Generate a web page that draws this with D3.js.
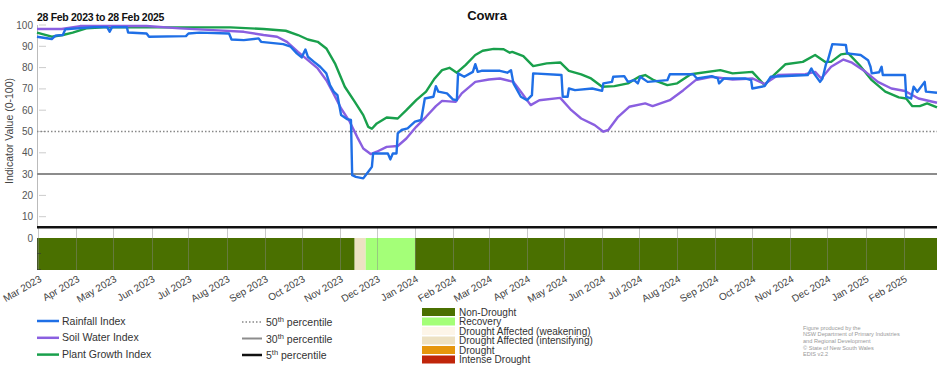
<!DOCTYPE html>
<html>
<head>
<meta charset="utf-8">
<script src="https://cdn.jsdelivr.net/npm/d3@7/dist/d3.min.js"></script>
<style>
  body { margin: 0; background: #fff; }
  text { font-family: "Liberation Sans", Arial, sans-serif; }
</style>
</head>
<body>
<svg id="chart" width="952" height="370"></svg>
<script>
// index values, [date, value]
const rainfall = [
  ["2023-02-28",94.5],["2023-03-12",93.4],["2023-03-15",95],["2023-03-21",95.3],["2023-03-23",98],
  ["2023-04-15",99],["2023-04-26",99],["2023-04-28",96.8],["2023-04-30",99],["2023-05-12",99],
  ["2023-05-13",96.5],["2023-05-28",96],["2023-05-30",94.5],["2023-06-29",94.8],["2023-07-01",96],
  ["2023-07-10",96.4],["2023-08-03",96],["2023-08-05",93.2],["2023-08-15",92.9],["2023-08-27",93.7],
  ["2023-08-29",92.1],["2023-09-16",91],["2023-09-22",89.8],["2023-09-27",86.7],["2023-10-01",84.8],
  ["2023-10-04",88.5],["2023-10-06",85.1],["2023-10-11",82.7],["2023-10-16",80.4],["2023-10-21",77.3],
  ["2023-10-24",71.8],["2023-10-27",68.7],["2023-10-30",67.1],["2023-11-02",57.7],["2023-11-07",55.8],
  ["2023-11-10",55.4],["2023-11-11",29.5],["2023-11-14",28.7],["2023-11-20",28],["2023-11-23",30.3],
  ["2023-11-27",33.4],["2023-11-28",39.7],["2023-12-10",39.7],["2023-12-12",36.9],["2023-12-14",39.7],
  ["2023-12-17",39.7],["2023-12-18",49.1],["2023-12-21",50.7],["2023-12-26",51.5],["2024-01-01",54.6],
  ["2024-01-06",55.4],["2024-01-09",65.5],["2024-01-16",66.3],["2024-01-18",71.3],["2024-01-20",68.7],
  ["2024-01-27",67.9],["2024-02-01",65],["2024-02-04",64.7],["2024-02-05",77.3],["2024-02-10",75.7],
  ["2024-02-17",78],["2024-02-19",81.6],["2024-02-21",78],["2024-02-24",78.5],["2024-03-10",78.5],
  ["2024-03-16",77.6],["2024-03-19",78.8],["2024-03-21",72.6],["2024-03-27",66.3],["2024-04-01",64.7],
  ["2024-04-05",67.1],["2024-04-06",77.3],["2024-04-29",76.5],["2024-04-30",66.3],["2024-05-04",66.3],
  ["2024-05-05",70.2],["2024-05-10",69.4],["2024-05-24",70.2],["2024-06-01",69.1],["2024-06-02",72.6],
  ["2024-06-09",73.3],["2024-06-10",75.7],["2024-06-19",76],["2024-06-22",73.3],["2024-06-27",74.1],
  ["2024-06-30",72.6],["2024-07-02",75.7],["2024-07-08",73.3],["2024-07-24",74.1],["2024-07-26",76.9],
  ["2024-08-14",76.9],["2024-08-17",74.9],["2024-08-29",76],["2024-09-03",74.9],["2024-09-04",72.6],
  ["2024-09-08",74.9],["2024-09-25",74.9],["2024-09-30",74.1],["2024-10-01",70.2],["2024-10-11",71.3],
  ["2024-10-16",75.7],["2024-11-15",76.5],["2024-11-18",79.6],["2024-11-20",77.3],["2024-11-25",73.3],
  ["2024-11-27",74.9],["2024-11-30",82],["2024-12-01",82.7],["2024-12-05",91],["2024-12-16",90.6],
  ["2024-12-17",86.7],["2024-12-28",85.9],["2025-01-03",83.5],["2025-01-05",80.4],["2025-01-06",77.3],
  ["2025-01-12",77.8],["2025-01-14",80.4],["2025-01-15",76.5],["2025-02-02",76.5],["2025-02-03",66.3],
  ["2025-02-07",65.5],["2025-02-09",71],["2025-02-12",68.7],["2025-02-18",73.3],["2025-02-19",68.7],
  ["2025-02-28",68.2]
];
const soilWater = [
  ["2023-02-28",98.1],["2023-03-20",98.1],["2023-04-04",99.5],["2023-05-28",99.5],["2023-06-24",98.4],
  ["2023-07-21",97.6],["2023-08-15",96.8],["2023-08-31",95.3],["2023-09-11",94.5],["2023-09-19",92.1],
  ["2023-09-28",87.4],["2023-10-06",83.5],["2023-10-14",79.6],["2023-10-21",74.1],["2023-10-26",68.7],
  ["2023-11-02",60.8],["2023-11-09",54.6],["2023-11-15",47.5],["2023-11-20",42],["2023-11-26",39.4],
  ["2023-12-01",40.5],["2023-12-09",42.8],["2023-12-18",43.2],["2023-12-25",46.7],["2024-01-02",52.2],
  ["2024-01-10",56.9],["2024-01-18",61.9],["2024-01-23",64.4],["2024-02-03",63.9],["2024-02-08",67.9],
  ["2024-02-19",73.3],["2024-03-01",74.4],["2024-03-10",74.9],["2024-03-21",73.3],["2024-03-27",68.7],
  ["2024-04-04",62.4],["2024-04-11",64.7],["2024-04-28",65.8],["2024-05-07",60],["2024-05-15",56.1],
  ["2024-05-26",53],["2024-06-02",49.9],["2024-06-06",50.7],["2024-06-14",56.9],["2024-06-23",61.6],
  ["2024-07-06",63.2],["2024-07-12",61.9],["2024-07-26",64.7],["2024-08-06",69.4],["2024-08-16",74.1],
  ["2024-08-29",75.7],["2024-09-15",74.4],["2024-10-01",74.9],["2024-10-11",72.3],["2024-10-22",76.5],
  ["2024-11-13",76.9],["2024-11-21",78],["2024-11-26",74.9],["2024-12-04",80.4],["2024-12-14",83.8],
  ["2024-12-21",82.3],["2025-01-01",78],["2025-01-11",73.3],["2025-01-22",70.2],["2025-02-02",69],
  ["2025-02-13",65.5],["2025-02-28",63.5]
];
const plantGrowth = [
  ["2023-02-28",96.4],["2023-03-12",94.5],["2023-03-21",95.3],["2023-03-29",96.4],["2023-04-09",98.4],
  ["2023-04-23",98.9],["2023-08-04",98.9],["2023-08-31",98.1],["2023-09-18",97.3],["2023-09-28",95.3],
  ["2023-10-06",93.2],["2023-10-14",92.1],["2023-10-21",89],["2023-10-28",82],["2023-11-05",71],
  ["2023-11-13",64],["2023-11-20",57.7],["2023-11-24",52.2],["2023-11-27",51.3],["2023-12-01",53.8],
  ["2023-12-09",56.6],["2023-12-18",56.1],["2023-12-25",60],["2024-01-02",64.7],["2024-01-10",68.7],
  ["2024-01-17",74.9],["2024-01-23",78.8],["2024-01-29",79.9],["2024-02-04",77.6],["2024-02-11",81.2],
  ["2024-02-19",85.9],["2024-02-25",87.9],["2024-03-05",88.8],["2024-03-13",88.6],["2024-03-18",87],
  ["2024-03-20",87.4],["2024-03-29",85.4],["2024-04-06",80.7],["2024-04-17",82],["2024-04-28",82.4],
  ["2024-05-05",78.5],["2024-05-15",76.8],["2024-05-23",74.9],["2024-06-01",71],["2024-06-11",71.3],
  ["2024-06-22",72.6],["2024-07-01",75.7],["2024-07-06",76.5],["2024-07-13",74.1],["2024-07-24",71.8],
  ["2024-08-01",72.6],["2024-08-12",76.9],["2024-09-05",78.8],["2024-09-15",77.3],["2024-10-01",78],
  ["2024-10-11",71.8],["2024-10-17",75.7],["2024-10-28",81.6],["2024-11-11",82.7],["2024-11-21",85.9],
  ["2024-11-29",82.7],["2024-12-04",82.7],["2024-12-12",86.2],["2024-12-18",86.7],["2024-12-27",81.2],
  ["2025-01-06",74.1],["2025-01-17",68.7],["2025-01-28",66],["2025-02-03",65.5],["2025-02-08",61.9],
  ["2025-02-14",61.9],["2025-02-20",63.2],["2025-02-28",61.3]
];

const seriesNames = ["Rainfall Index", "Soil Water Index", "Plant Growth Index"];
const yTicks = [0, 10, 20, 30, 40, 50, 60, 70, 80, 90, 100];
const percentiles = [50, 30, 5];

const droughtCategories = ["Non-Drought", "Recovery", "Drought Affected (weakening)",
  "Drought Affected (intensifying)", "Drought", "Intense Drought"];
// [start, end, category]
const droughtPeriods = [
  ["2023-02-28", "2023-11-13", "Non-Drought"],
  ["2023-11-13", "2023-11-22", "Drought Affected (intensifying)"],
  ["2023-11-22", "2024-01-01", "Recovery"],
  ["2024-01-01", "2025-02-28", "Non-Drought"]
];
const credits = ["Figure produced by the", "NSW Department of Primary Industries",
  "and Regional Development", "\u00A9 State of New South Wales", "EDIS v2.2"];

const parse = d3.timeParse("%Y-%m-%d");
const svg = d3.select("#chart");

const x = d3.scaleTime().domain([parse("2023-02-28"), parse("2025-02-28")]).range([37, 937]);
const y = d3.scaleLinear().domain([0, 100]).range([238, 25]);

const lineColours = ["#1f6fe6", "#8a5fe0", "#19a04c"];
const catColour = d3.scaleOrdinal().domain(droughtCategories)
  .range(["#4a7000", "#a4ff78", "#fdf5e8", "#ede1c2", "#e6960c", "#c0250a"]);

// titles
svg.append("text").attr("x", 487).attr("y", 20).attr("text-anchor", "middle")
  .attr("font-size", 13).attr("font-weight", "bold").attr("fill", "#111").text("Cowra");
svg.append("text").attr("x", 37).attr("y", 21).attr("font-size", 10.5).attr("font-weight", "bold")
  .attr("fill", "#111").attr("letter-spacing", -0.3).text("28 Feb 2023 to 28 Feb 2025");

// y axis
svg.append("text").attr("transform", "translate(13,131) rotate(-90)").attr("text-anchor", "middle")
  .attr("font-size", 10.5).attr("fill", "#444").text("Indicator Value (0-100)");
svg.append("line").attr("x1", 37.5).attr("x2", 37.5).attr("y1", y(100)).attr("y2", y(5))
  .attr("stroke", "#bbb");
const yg = svg.append("g");
yg.selectAll("line").data(yTicks.filter(d => d > 5)).join("line")
  .attr("x1", 39).attr("x2", 46).attr("y1", d => y(d)).attr("y2", d => y(d))
  .attr("stroke", "#ccc");
yg.selectAll("text").data(yTicks).join("text")
  .attr("x", 33).attr("y", d => y(d) + 3.5).attr("text-anchor", "end")
  .attr("font-size", 10).attr("fill", "#555").text(d => d);

// drought strip
const strip = svg.append("g");
strip.selectAll("rect").data(droughtPeriods).join("rect")
  .attr("x", d => x(parse(d[0]))).attr("width", d => x(parse(d[1])) - x(parse(d[0])))
  .attr("y", y(0)).attr("height", 32)
  .attr("fill", d => catColour(d[2]));
const months = x.ticks(d3.timeMonth.every(1));
strip.selectAll("line.grid").data(months).join("line").attr("class", "grid")
  .attr("x1", d => Math.round(x(d)) + 0.5).attr("x2", d => Math.round(x(d)) + 0.5)
  .attr("y1", y(5)).attr("y2", y(0) + 32)
  .attr("stroke", "#888").attr("stroke-opacity", 0.45);
strip.append("line").attr("x1", 37.5).attr("x2", 37.5).attr("y1", y(0)).attr("y2", y(0) + 32)
  .attr("stroke", "#444").attr("stroke-opacity", 0.6);
strip.selectAll("line.tk").data([16, 32]).join("line").attr("class", "tk")
  .attr("x1", 37).attr("x2", 41).attr("y1", d => y(0) + d - 0.5).attr("y2", d => y(0) + d - 0.5)
  .attr("stroke", "#333").attr("stroke-opacity", 0.6);

// x labels
const fmt = d3.timeFormat("%b %Y");
svg.append("g").selectAll("text").data(months).join("text")
  .attr("transform", d => `translate(${x(d) + 4},281) rotate(-30)`)
  .attr("text-anchor", "end").attr("font-size", 10).attr("fill", "#444")
  .text(d => fmt(d));

// percentile lines
const pStyle = {50: ["#888", 1.6, "1.5,2"], 30: ["#8c8c8c", 2, null], 5: ["#111", 2.5, null]};
svg.append("g").selectAll("line").data(percentiles).join("line")
  .attr("x1", 37).attr("x2", 937).attr("y1", d => y(d)).attr("y2", d => y(d))
  .attr("stroke", d => pStyle[d][0]).attr("stroke-width", d => pStyle[d][1])
  .attr("stroke-dasharray", d => pStyle[d][2]);

// index lines
const line = d3.line().x(d => x(parse(d[0]))).y(d => y(d[1]));
const allSeries = [rainfall, soilWater, plantGrowth];
[2, 1, 0].forEach(i => {
  svg.append("path").datum(allSeries[i]).attr("d", line)
    .attr("fill", "none").attr("stroke", lineColours[i]).attr("stroke-width", 2.4)
    .attr("stroke-linejoin", "round");
});

// legend: series
const lg = svg.append("g");
seriesNames.forEach((n, i) => {
  const yy = 321 + i * 16.8;
  lg.append("line").attr("x1", 37).attr("x2", 59).attr("y1", yy).attr("y2", yy)
    .attr("stroke", lineColours[i]).attr("stroke-width", 2.5);
  lg.append("text").attr("x", 62).attr("y", yy + 3.5).attr("font-size", 10.5).attr("fill", "#333").text(n);
});
// legend: percentiles
percentiles.forEach((p, i) => {
  const yy = 322 + i * 16.5;
  lg.append("line").attr("x1", 242).attr("x2", 262).attr("y1", yy).attr("y2", yy)
    .attr("stroke", pStyle[p][0]).attr("stroke-width", pStyle[p][1])
    .attr("stroke-dasharray", pStyle[p][2]);
  const t = lg.append("text").attr("x", 266).attr("y", yy + 4).attr("font-size", 10.5).attr("fill", "#333");
  t.append("tspan").text(p);
  t.append("tspan").attr("dy", -4).attr("font-size", 7.5).text("th");
  t.append("tspan").attr("dy", 4).text(" percentile");
});
// legend: drought categories
droughtCategories.forEach((c, i) => {
  const yy = 312 + i * 9.5;
  lg.append("rect").attr("x", 422).attr("y", yy - 4).attr("width", 33).attr("height", 8)
    .attr("fill", catColour(c));
  lg.append("text").attr("x", 459).attr("y", yy + 3.5).attr("font-size", 10).attr("fill", "#333").text(c);
});
// credits
lg.selectAll("text.cr").data(credits).join("text").attr("class", "cr")
  .attr("x", 803).attr("y", (d, i) => 329.5 + i * 6.7)
  .attr("font-size", 5.6).attr("fill", "#999").text(d => d);
</script>
</body>
</html>
